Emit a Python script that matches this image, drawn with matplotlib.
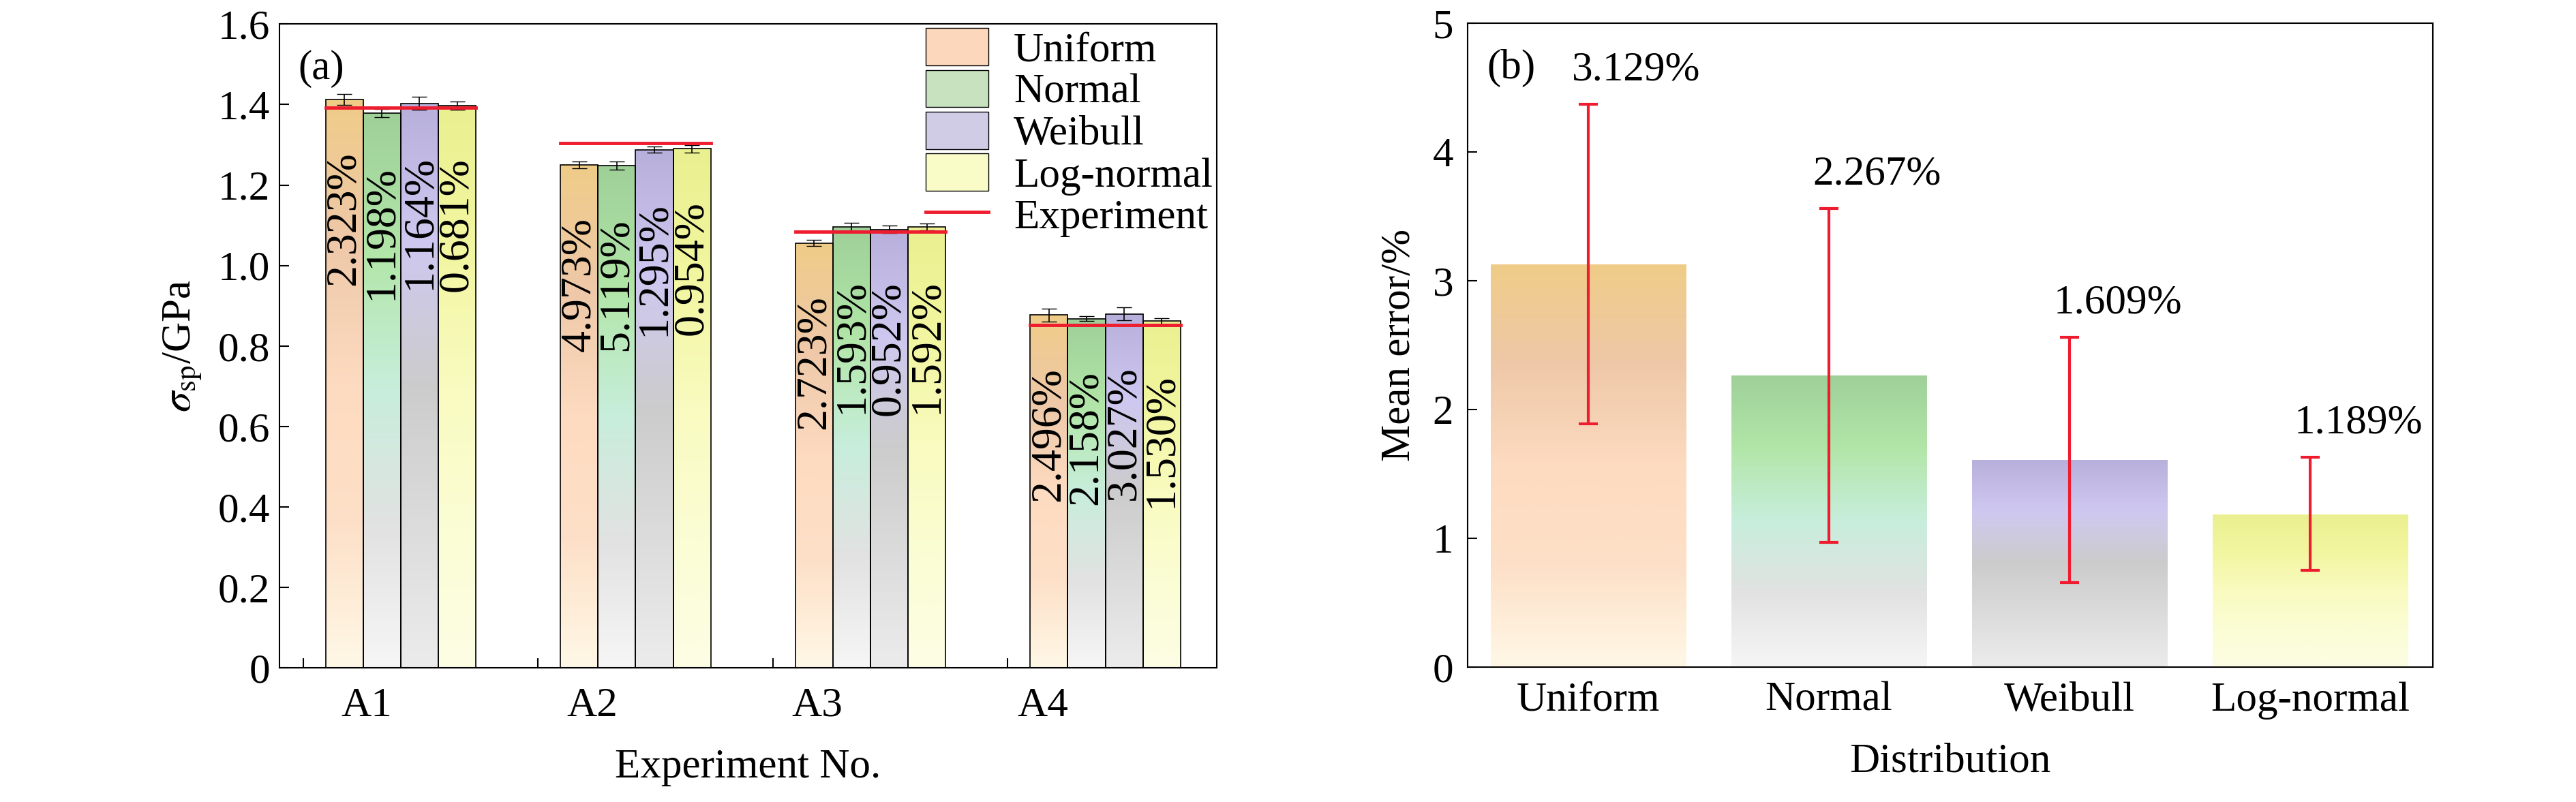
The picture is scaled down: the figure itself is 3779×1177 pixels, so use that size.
import numpy as np
import matplotlib.pyplot as plt
from matplotlib.colors import LinearSegmentedColormap
from matplotlib.patches import Patch
from matplotlib.lines import Line2D

plt.rcParams['font.family'] = 'Liberation Serif'
plt.rcParams['font.size'] = 44
plt.rcParams['mathtext.fontset'] = 'stix'

dists = ['Uniform', 'Normal', 'Weibull', 'Log-normal']
experiments = ['A1', 'A2', 'A3', 'A4']
label_pos = [0.27, 1.23, 2.19, 3.15]  # where the experiment names sit on the axis
sim = np.array([[1.413, 1.379, 1.403, 1.398],
                [1.250, 1.248, 1.288, 1.290],
                [1.056, 1.096, 1.090, 1.096],
                [0.877, 0.868, 0.880, 0.862]])
sim_err = np.array([[0.014, 0.010, 0.016, 0.010],
                    [0.008, 0.010, 0.008, 0.010],
                    [0.008, 0.010, 0.010, 0.008],
                    [0.016, 0.006, 0.016, 0.008]])
exp_val = [1.392, 1.305, 1.085, 0.853]
err_labels = [['2.323%', '1.198%', '1.164%', '0.681%'],
              ['4.973%', '5.119%', '1.295%', '0.954%'],
              ['2.723%', '1.593%', '0.952%', '1.592%'],
              ['2.496%', '2.158%', '3.027%', '1.530%']]
mean_err = [3.129, 2.267, 1.609, 1.189]
mean_lo = [1.89, 0.97, 0.66, 0.75]
mean_hi = [4.37, 3.56, 2.56, 1.63]

# colour stops from bar bottom to bar top
stops = {'Uniform': ['#fff8e6', '#fde0c8', '#fddbc0', '#eec8a8', '#f0cc88'],
         'Normal': ['#f6f6f6', '#e2e2e2', '#c8eedc', '#b2e6a8', '#9ed098'],
         'Weibull': ['#ececec', '#dcdcdc', '#cccccc', '#cfc8f0', '#b8b0dc'],
         'Log-normal': ['#fdfde4', '#fbfdd4', '#f9fbc0', '#f2f6a0', '#eaf090']}


def grad_bar(ax, x, top, width, name, bottom=0.0, edge=True):
    cmap = LinearSegmentedColormap.from_list(name, stops[name])
    bar = ax.bar(x, top - bottom, width, bottom=bottom, align='edge',
                 facecolor='none', edgecolor='k' if edge else 'none', lw=1.2, zorder=3)[0]
    img = ax.imshow(np.linspace(0, 1, 256).reshape(-1, 1), cmap=cmap, origin='lower',
                    extent=[x, x + width, bottom, top], aspect='auto', zorder=2)
    img.set_clip_path(bar)


fig = plt.figure(figsize=(37.8, 11.77), dpi=100)
ax1 = fig.add_axes([0.1085, 0.167, 0.3637, 0.803])
ax2 = fig.add_axes([0.5696, 0.168, 0.3746, 0.803])

w = 0.16
for i, e in enumerate(experiments):
    for j, d in enumerate(dists):
        x0 = i + 0.096 + j * w
        grad_bar(ax1, x0, sim[i, j], w, d)
        ax1.errorbar(x0 + w / 2, sim[i, j], yerr=sim_err[i, j], color='k', lw=1.2,
                     capsize=8, zorder=4)
        ax1.text(x0 + w / 2, sim[i, j] - 0.13, err_labels[i][j], rotation=90,
                 ha='center', va='top', fontsize=46, zorder=5)
    ax1.plot([i + 0.096, i + 0.096 + 4 * w], [exp_val[i], exp_val[i]], color='#ee1c2e',
             lw=3.5, zorder=6)
ax1.set_xlim(-0.10, 3.89)
ax1.set_ylim(0, 1.6)
ax1.set_xticks(label_pos)
ax1.set_xticklabels(experiments)
ax1.set_xticks(range(4), minor=True)
ax1.tick_params(axis='x', which='major', length=0, pad=20)
ax1.tick_params(axis='x', which='minor', direction='in', length=10, width=1.5)
ax1.set_yticks(np.arange(0, 1.61, 0.2))
ax1.set_yticklabels(['0'] + ['%.1f' % v for v in np.arange(0.2, 1.61, 0.2)])
ax1.tick_params(axis='y', direction='in', length=10, width=1.5, pad=10)
ax1.set_xlabel('Experiment No.', labelpad=25)
ax1.set_ylabel(r'$\sigma_{\mathrm{sp}}$/GPa', labelpad=15)
ax1.text(0.02, 0.96, '(a)', transform=ax1.transAxes, va='top')
handles = [Patch(facecolor='#fcd7bb', edgecolor='k'), Patch(facecolor='#c8e2c0', edgecolor='k'),
           Patch(facecolor='#d0cce6', edgecolor='k'), Patch(facecolor='#fafcc8', edgecolor='k'),
           Line2D([0], [0], color='#ee1c2e', lw=3.5)]
ax1.legend(handles, dists + ['Experiment'], loc='upper right', frameon=False,
           handlelength=1.5, handleheight=1.0, labelspacing=0.0, borderaxespad=0.0,
           handletextpad=0.6, fontsize=44, borderpad=0.1)

for k, d in enumerate(dists):
    grad_bar(ax2, k - 0.405, mean_err[k], 0.81, d, edge=False)
    ax2.errorbar(k, mean_err[k], yerr=[[mean_err[k] - mean_lo[k]], [mean_hi[k] - mean_err[k]]],
                 fmt='none', ecolor='#ee1c2e', lw=3, capsize=10, capthick=3, zorder=4)
    ax2.text(k + 0.2, mean_hi[k] + 0.12, '%.3f%%' % mean_err[k], ha='center', va='bottom',
             fontsize=44)
ax2.set_xlim(-0.5, 3.51)
ax2.set_ylim(0, 5)
ax2.set_xticks(range(4))
ax2.set_xticklabels(dists)
ax2.tick_params(direction='in', length=10, width=1.5, pad=15)
ax2.set_xlabel('Distribution', labelpad=25)
ax2.set_ylabel('Mean error/%', labelpad=15)
ax2.text(0.02, 0.96, '(b)', transform=ax2.transAxes, va='top')

for ax in (ax1, ax2):
    for s in ax.spines.values():
        s.set_linewidth(1.5)

plt.savefig('out.png', dpi=100)
